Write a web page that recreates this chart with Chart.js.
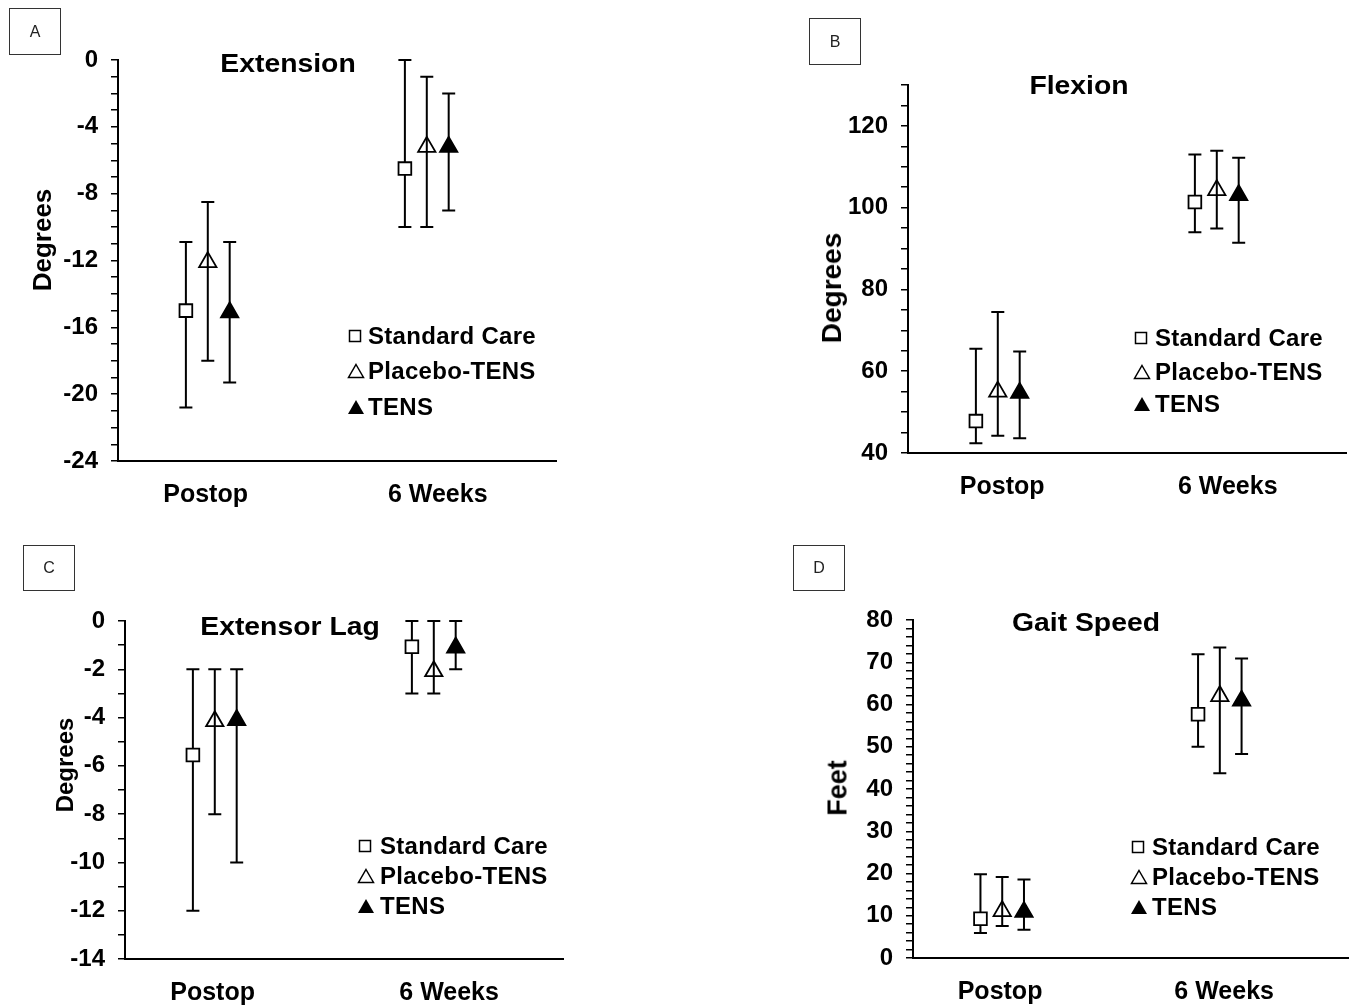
<!DOCTYPE html>
<html>
<head>
<meta charset="utf-8">
<script src="https://cdn.jsdelivr.net/npm/chart.js@4.4.1/dist/chart.umd.min.js"></script>
<style>
  body { margin:0; background:#fff; width:1360px; height:1007px; position:relative; overflow:hidden;
         font-family:"Liberation Sans", Arial, sans-serif; color:#000; }
  canvas { position:absolute; }
  .box { position:absolute; border:1.5px solid #333; box-sizing:border-box; font-size:16px; color:#222;
         display:flex; align-items:center; justify-content:center; }
  .ttl { position:absolute; font-weight:bold; font-size:26px; white-space:nowrap; transform:translate(-50%,-50%) scaleX(1.09); }
  .ax  { position:absolute; font-weight:bold; white-space:nowrap; transform:translate(-50%,-50%) rotate(-90deg); }
  .lg  { position:absolute; height:28px; display:flex; align-items:center; font-weight:bold; font-size:24px;
         letter-spacing:0.3px; white-space:nowrap; }
  .lg svg { flex:none; }
</style>
</head>
<body>
<canvas id="cA" width="680" height="530"></canvas>
<canvas id="cB" width="680" height="530"></canvas>
<canvas id="cC" width="680" height="477"></canvas>
<canvas id="cD" width="680" height="477"></canvas>
<script>
// categories and groups shared by all four panels
var categories = ['Postop', '6 Weeks'];
var groups = ['Standard Care', 'Placebo-TENS', 'TENS'];

var panelLetters = ['A', 'B', 'C', 'D'];
var panelTitles = ['Extension', 'Flexion', 'Extensor Lag', 'Gait Speed'];
var axisTitles = ['Degrees', 'Degrees', 'Degrees', 'Feet'];

// rows = groups, columns = categories
// A - Extension
var extMean = [[-15.0, -6.5], [-12.1, -5.2], [-15.1, -5.2]];
var extLow  = [[-20.8, -10.0], [-18.0, -10.0], [-19.3, -9.0]];
var extHigh = [[-10.9, 0], [-8.5, -1.0], [-10.9, -2.0]];
var extAxis = [-24, 0, 1, 4];   // min, max, step, label every

// B - Flexion
var flxMean = [[47.8, 101.4], [55.0, 104.3], [54.7, 103.1]];
var flxLow  = [[42.4, 94.0], [44.2, 94.9], [43.6, 91.4]];
var flxHigh = [[65.5, 113.0], [74.5, 113.9], [64.8, 112.2]];
var flxAxis = [40, 130, 5, 20];

// C - Extensor Lag
var lagMean = [[-5.55, -1.07], [-4.15, -2.08], [-4.1, -1.1]];
var lagLow  = [[-12, -3], [-8, -3], [-10, -2]];
var lagHigh = [[-2, 0], [-2, 0], [-2, 0]];
var lagAxis = [-14, 0, 1, 2];

// D - Gait Speed
var gaitMean = [[9.3, 57.7], [11.1, 62.0], [10.9, 60.9]];
var gaitLow  = [[5.9, 50.0], [7.6, 43.7], [6.7, 48.3]];
var gaitHigh = [[19.8, 71.9], [19.2, 73.5], [18.6, 70.9]];
var gaitAxis = [0, 80, 2, 10];

// layout of each panel on the page (labelAt = where the category labels sit on the x scale)
var layouts = [
  {id:'cA', canvas:[0,0], yw:118, top:60, right:124, xh:69, labelAt:[0.99,2.05], box:[9,8,52,47],   title:[288,63],   axT:[42,240,26],  lg:[347,368,[336,371,407]]},
  {id:'cB', canvas:[680,0], yw:228, top:85, right:14, xh:77, labelAt:[1.02,2.05], box:[809,18,52,47], title:[1079,85],  axT:[832,288,28], lg:[1133,1155,[338,372,404]]},
  {id:'cC', canvas:[0,530], yw:125, top:91, right:117, xh:48, labelAt:[0.99,2.07], box:[23,545,52,46], title:[290,626],  axT:[65,765,24],  lg:[357,380,[846,876,906]]},
  {id:'cD', canvas:[680,530], yw:233, top:90, right:9, xh:49, labelAt:[0.99,2.02], box:[793,545,52,46], title:[1086,622], axT:[838,788,27], lg:[1130,1152,[847,877,907]]}
];

var FONT = '"Liberation Sans", Arial, sans-serif';
var groupOffset = [-0.1, 0, 0.1];
var markers = [
  {style:'rect', r:9, fill:'#fff'},
  {style:'triangle', r:10, fill:'rgba(0,0,0,0)'},
  {style:'triangle', r:10, fill:'#000'}
];

var errorBars = {
  id: 'errbars',
  beforeDatasetsDraw: function(chart, args, opts) {
    var ctx = chart.ctx, xs = chart.scales.x, ys = chart.scales.y;
    ctx.save();
    ctx.strokeStyle = '#000';
    ctx.lineWidth = 2;
    for (var i = 0; i < groups.length; i++) {
      for (var j = 0; j < categories.length; j++) {
        var x = xs.getPixelForValue(j + 1 + groupOffset[i]);
        var y1 = ys.getPixelForValue(opts.lo[i][j]);
        var y2 = ys.getPixelForValue(opts.hi[i][j]);
        ctx.beginPath();
        ctx.moveTo(x, y1); ctx.lineTo(x, y2);
        ctx.moveTo(x - 6.5, y1); ctx.lineTo(x + 6.5, y1);
        ctx.moveTo(x - 6.5, y2); ctx.lineTo(x + 6.5, y2);
        ctx.stroke();
      }
    }
    ctx.restore();
  }
};

function makePanel(k, mean, lo, hi, axis) {
  var L = layouts[k];
  var cv = document.getElementById(L.id);
  cv.style.left = L.canvas[0] + 'px';
  cv.style.top = L.canvas[1] + 'px';

  var datasets = groups.map(function(g, i) {
    return {
      label: g,
      data: categories.map(function(c, j) { return {x: j + 1 + groupOffset[i], y: mean[i][j]}; }),
      pointStyle: markers[i].style,
      pointRadius: markers[i].r,
      pointBackgroundColor: markers[i].fill,
      pointBorderColor: '#000',
      pointBorderWidth: 1.8,
      showLine: false
    };
  });

  new Chart(cv, {
    type: 'scatter',
    data: { datasets: datasets },
    plugins: [errorBars],
    options: {
      responsive: false,
      animation: false,
      layout: { padding: { top: L.top, right: L.right, left: 0, bottom: 0 } },
      plugins: {
        legend: { display: false },
        tooltip: { enabled: false },
        errbars: { lo: lo, hi: hi }
      },
      scales: {
        x: {
          type: 'linear', min: 0.59, max: 2.59,
          afterBuildTicks: function(s) { s.ticks = L.labelAt.map(function(v) { return {value: v}; }); },
          ticks: {
            autoSkip: false, maxRotation: 0, padding: 19, color: '#000',
            font: { family: FONT, size: 25, weight: 'bold' },
            callback: function(v, idx) { return categories[idx] || ''; }
          },
          grid: { display: false, drawTicks: false },
          border: { display: true, color: '#000', width: 2 },
          afterFit: function(s) { s.height = L.xh; }
        },
        y: {
          type: 'linear', min: axis[0], max: axis[1],
          ticks: {
            stepSize: axis[2], autoSkip: false, padding: 13, color: '#000',
            font: { family: FONT, size: 24, weight: 'bold' },
            callback: function(v) { var r = Math.round(v); return r % axis[3] === 0 ? String(r) : ''; }
          },
          grid: { drawOnChartArea: false, drawTicks: true, tickLength: 7, tickColor: '#000', tickWidth: 1.5, lineWidth: 1.5 },
          border: { display: true, color: '#000', width: 2 },
          afterFit: function(s) { s.width = L.yw; }
        }
      }
    }
  });

  // panel letter box, title, axis title, legend
  var b = document.createElement('div');
  b.className = 'box';
  b.style.cssText = 'left:' + L.box[0] + 'px;top:' + L.box[1] + 'px;width:' + L.box[2] + 'px;height:' + L.box[3] + 'px';
  b.textContent = panelLetters[k];
  document.body.appendChild(b);

  var t = document.createElement('div');
  t.className = 'ttl';
  t.style.left = L.title[0] + 'px'; t.style.top = L.title[1] + 'px';
  t.textContent = panelTitles[k];
  document.body.appendChild(t);

  var a = document.createElement('div');
  a.className = 'ax';
  a.style.left = L.axT[0] + 'px'; a.style.top = L.axT[1] + 'px'; a.style.fontSize = L.axT[2] + 'px';
  a.textContent = axisTitles[k];
  document.body.appendChild(a);

  var syms = [
    '<svg width="16" height="16"><rect x="2.5" y="2.5" width="11" height="11" fill="#fff" stroke="#000" stroke-width="1.5"/></svg>',
    '<svg width="18" height="16"><polygon points="9,1.5 16.5,14.5 1.5,14.5" fill="none" stroke="#000" stroke-width="1.5"/></svg>',
    '<svg width="18" height="16"><polygon points="9,1 17,15 1,15" fill="#000"/></svg>'
  ];
  groups.forEach(function(g, i) {
    var row = document.createElement('div');
    row.className = 'lg';
    row.style.left = L.lg[0] + 'px';
    row.style.top = (L.lg[2][i] - 14) + 'px';
    row.innerHTML = syms[i];
    var s = document.createElement('span');
    s.style.marginLeft = (L.lg[1] - L.lg[0] - (i === 0 ? 16 : 18)) + 'px';
    s.textContent = g;
    row.appendChild(s);
    document.body.appendChild(row);
  });
}

makePanel(0, extMean, extLow, extHigh, extAxis);
makePanel(1, flxMean, flxLow, flxHigh, flxAxis);
makePanel(2, lagMean, lagLow, lagHigh, lagAxis);
makePanel(3, gaitMean, gaitLow, gaitHigh, gaitAxis);
</script>
</body>
</html>
